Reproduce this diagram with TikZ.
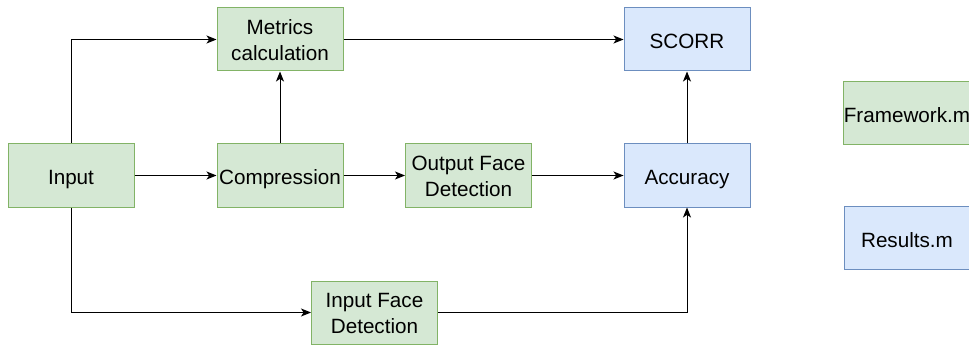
\documentclass[tikz,border=0pt]{standalone}
\usepackage{fontspec}
\setmainfont{Liberation Sans}
\usetikzlibrary{arrows.meta}
\definecolor{gfill}{HTML}{D5E8D4}
\definecolor{gline}{HTML}{82B366}
\definecolor{bfill}{HTML}{DAE8FC}
\definecolor{bline}{HTML}{6C8EBF}
% two centred lines, set slightly below the middle of the box
\newcommand\twolines[2]{\begin{tabular}{@{}c@{}}\rule{0pt}{17.6pt}#1\\#2\end{tabular}}
\begin{document}
\begin{tikzpicture}[x=0.75pt,y=-0.75pt,
  box/.style={rectangle, minimum width=94.5pt, minimum height=47.25pt,
    inner sep=0pt, align=center, line width=0.75pt,
    font=\fontsize{15.5}{19.4}\selectfont,
    execute at begin node=\rule{0pt}{16.2pt},
    execute at end node=\rule[-2pt]{0pt}{2pt}},
  gbox/.style={box, fill=gfill, draw=gline},
  bbox/.style={box, fill=bfill, draw=bline},
  link/.style={line width=0.75pt, -{Stealth[length=7.5pt,width=6pt,inset=2pt]}}]
\useasboundingbox (0,0) rectangle (969,345);
\begin{scope}
\clip (0,0) rectangle (969,345);
\node[gbox] (in)  at (71,175.5)  {Input};
\node[gbox] (met) at (280,39.5)  {\twolines{Metrics}{calculation}};
\node[gbox] (cmp) at (280,175.5) {Compression};
\node[gbox] (ofd) at (468.5,175.5) {\twolines{Output Face}{Detection}};
\node[bbox] (sco) at (687,39.5)  {SCORR};
\node[bbox] (acc) at (687,175.5) {Accuracy};
\node[gbox] (fw)  at (907,113)   {Framework.m};
\node[bbox] (res) at (907,238)   {Results.m};
\node[gbox] (ifd) at (374.5,312.5) {\twolines{Input Face}{Detection}};

\draw[link] (in.north) |- (met.west);
\draw[link] (in.east) -- (cmp.west);
\draw[link] (cmp.north) -- (met.south);
\draw[link] (met.east) -- (sco.west);
\draw[link] (cmp.east) -- (ofd.west);
\draw[link] (ofd.east) -- (acc.west);
\draw[link] (acc.north) -- (sco.south);
\draw[link] (in.south) |- (ifd.west);
\draw[link] (ifd.east) -| (acc.south);
\end{scope}
\end{tikzpicture}
\end{document}
